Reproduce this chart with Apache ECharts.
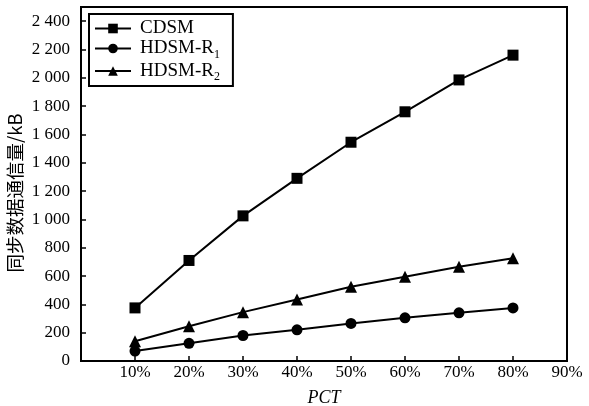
<!DOCTYPE html>
<html>
<head>
<meta charset="utf-8">
<script src="https://cdn.jsdelivr.net/npm/echarts@6/dist/echarts.min.js"></script>
<style>
  html, body { margin: 0; padding: 0; background: #fff; }
  #chart { width: 589px; height: 406px; }
</style>
</head>
<body>
<div id="chart"></div>
<script>
// PCT levels (%) and synchronised data volume (kB) for each scheme
const pct = [10, 20, 30, 40, 50, 60, 70, 80];
const cdsm = [375, 710, 1025, 1290, 1545, 1760, 1985, 2160];
const hdsmR1 = [70, 125, 180, 220, 265, 305, 340, 375];
const hdsmR2 = [140, 245, 345, 435, 525, 595, 665, 725];

const seriesNames = ['CDSM', 'HDSM-R1', 'HDSM-R2'];
const xAxisTitle = 'PCT';
const yAxisTitle = '同步数据通信量/kB';

const serif = '"Liberation Serif", "Times New Roman", serif';
const cjk = '"Noto Sans CJK SC", sans-serif';

function pairs(values) {
  return pct.map((p, i) => [p, values[i]]);
}

function groupThousands(v) {
  const s = String(v);
  return s.length > 3 ? s.slice(0, s.length - 3) + ' ' + s.slice(-3) : s;
}

const chart = echarts.init(document.getElementById('chart'), null, { renderer: 'canvas' });

const lineStyle = { color: '#000', width: 2 };
const itemStyle = { color: '#000' };

chart.setOption({
  animation: false,
  backgroundColor: '#fff',
  grid: {
    left: 81, right: 22, top: 7, bottom: 45,
    outerBoundsMode: 'none',
    containLabel: false,
    show: true, borderColor: '#000', borderWidth: 2, backgroundColor: 'transparent'
  },
  legend: {
    orient: 'vertical',
    left: 89, top: 14,
    padding: [5, 13, 3, 5],
    itemGap: 1,
    itemWidth: 36, itemHeight: 12,
    borderColor: '#000', borderWidth: 2,
    backgroundColor: '#fff',
    data: seriesNames,
    // trailing digit of a scheme name is set as a subscript
    formatter: function (name) {
      const m = name.match(/^(.*-R)(\d)$/);
      return m ? '{t|' + m[1] + '}{s|' + m[2] + '}' : '{t|' + name + '}';
    },
    textStyle: {
      color: '#000', fontFamily: serif, fontSize: 19,
      rich: {
        t: { fontFamily: serif, fontSize: 19, lineHeight: 24, padding: [0, 0, 0, 4], color: '#000' },
        s: { fontFamily: serif, fontSize: 12, lineHeight: 12, color: '#000', verticalAlign: 'bottom' }
      }
    }
  },
  xAxis: {
    type: 'value',
    min: 0, max: 90, interval: 10,
    name: xAxisTitle,
    nameLocation: 'middle',
    nameGap: 28,
    nameMoveOverlap: false,
    nameTextStyle: { fontFamily: serif, fontStyle: 'italic', fontSize: 18, color: '#000' },
    axisLine: { show: true, lineStyle: { color: '#000', width: 2 } },
    axisTick: { show: true, inside: true, length: 5, lineStyle: { color: '#000', width: 1.5 } },
    axisLabel: {
      showMinLabel: false,
      margin: 3,
      fontFamily: serif, fontSize: 17, color: '#000',
      formatter: v => v + '%'
    },
    splitLine: { show: false }
  },
  yAxis: {
    type: 'value',
    min: 0, max: 2500, interval: 200,
    name: yAxisTitle,
    nameLocation: 'middle',
    nameGap: 57,
    nameMoveOverlap: false,
    nameTextStyle: { fontFamily: cjk, fontSize: 18.5, color: '#000', padding: [0, 18, 0, 0] },
    axisLine: { show: true, lineStyle: { color: '#000', width: 2 } },
    axisTick: { show: true, inside: true, length: 5, lineStyle: { color: '#000', width: 1.5 } },
    axisLabel: {
      showMaxLabel: false,
      margin: 11,
      fontFamily: serif, fontSize: 17, color: '#000',
      formatter: groupThousands
    },
    splitLine: { show: false }
  },
  series: [
    { name: seriesNames[0], type: 'line', data: pairs(cdsm), symbol: 'rect', symbolSize: 11,
      lineStyle, itemStyle },
    { name: seriesNames[1], type: 'line', data: pairs(hdsmR1), symbol: 'circle', symbolSize: 11,
      lineStyle, itemStyle },
    { name: seriesNames[2], type: 'line', data: pairs(hdsmR2), symbol: 'triangle', symbolSize: 12,
      lineStyle, itemStyle }
  ]
});
</script>
</body>
</html>
